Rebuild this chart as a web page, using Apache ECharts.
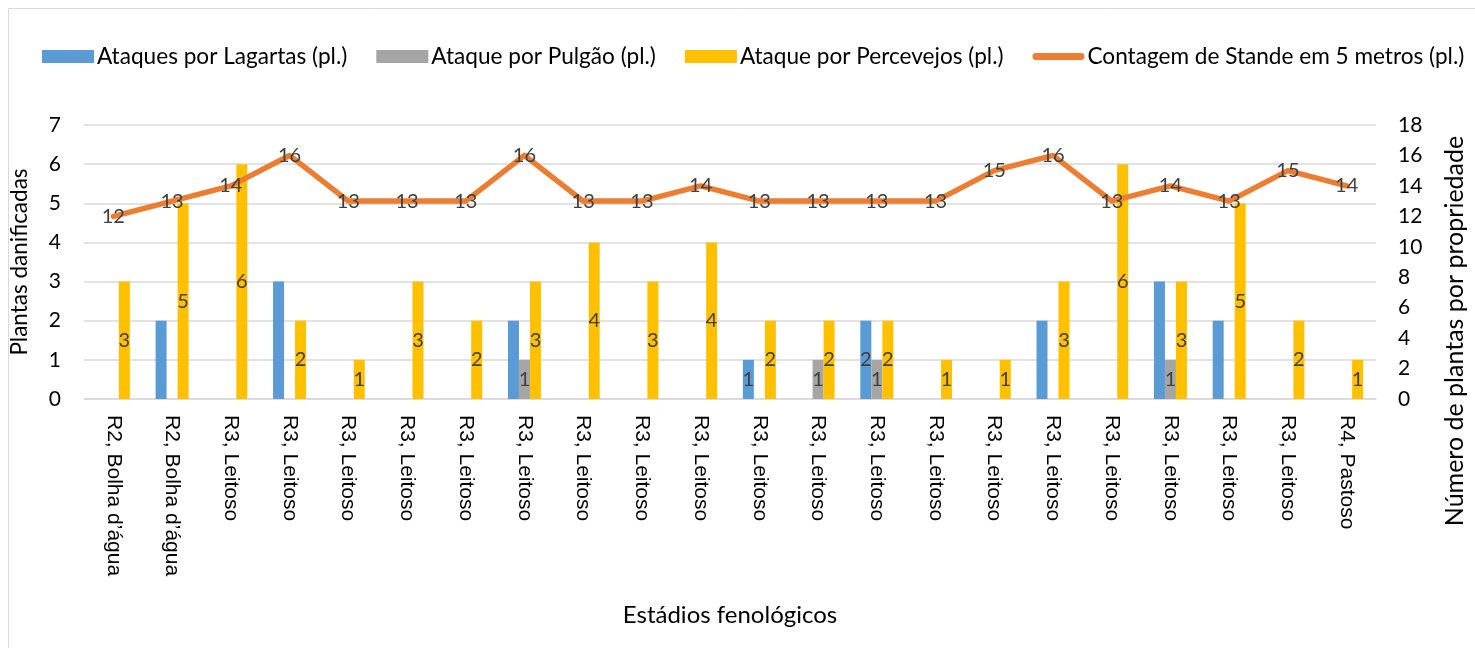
<!DOCTYPE html>
<html>
<head>
<meta charset="utf-8">
<script src="https://cdn.jsdelivr.net/npm/echarts@6/dist/echarts.min.js"></script>
<style>
  html, body { margin: 0; padding: 0; background: #fff; }
  #chart { width: 1475px; height: 648px; }
</style>
</head>
<body>
<div id="chart"></div>
<script>
var categorias = [
  'R2, Bolha d’água', 'R2, Bolha d’água', 'R3, Leitoso', 'R3, Leitoso', 'R3, Leitoso',
  'R3, Leitoso', 'R3, Leitoso', 'R3, Leitoso', 'R3, Leitoso', 'R3, Leitoso',
  'R3, Leitoso', 'R3, Leitoso', 'R3, Leitoso', 'R3, Leitoso', 'R3, Leitoso',
  'R3, Leitoso', 'R3, Leitoso', 'R3, Leitoso', 'R3, Leitoso', 'R3, Leitoso',
  'R3, Leitoso', 'R4, Pastoso'
]
var lagartas   = [0, 2, 0, 3, 0, 0, 0, 2, 0, 0, 0, 1, 0, 2, 0, 0, 2, 0, 3, 2, 0, 0]
var pulgao     = [0, 0, 0, 0, 0, 0, 0, 1, 0, 0, 0, 0, 1, 1, 0, 0, 0, 0, 1, 0, 0, 0]
var percevejos = [3, 5, 6, 2, 1, 3, 2, 3, 4, 3, 4, 2, 2, 2, 1, 1, 3, 6, 3, 5, 2, 1]
var stande     = [12, 13, 14, 16, 13, 13, 13, 16, 13, 13, 14, 13, 13, 13, 13, 15, 16, 13, 14, 13, 15, 14]

// only some bars carry a value label in the original
var lagartasRotulos = [11, 13]
var pulgaoRotulos = [7, 12, 13, 18]

var fonte = 'Lato, "Open Sans", sans-serif'
var fonteCategoria = '"Liberation Sans", Arial, sans-serif'
var corTexto = '#404040'

function rotular(valores, indices) {
  return valores.map(function (v, i) {
    return { value: v, label: { show: indices.indexOf(i) >= 0 } }
  })
}

var rotuloBarra = {
  position: 'inside',
  color: corTexto,
  fontSize: 20,
  fontFamily: fonte
}

var myChart = echarts.init(document.getElementById('chart'))

var option = {
  backgroundColor: '#fff',
  textStyle: { fontFamily: fonte },
  graphic: [{
    type: 'rect',
    shape: { x: 8.5, y: 8.5, width: 1500, height: 700 },
    style: { fill: 'none', stroke: '#D9D9D9', lineWidth: 1 },
    silent: true
  }],
  legend: {
    left: 37,
    top: 40,
    itemGap: 29,
    itemWidth: 52,
    itemHeight: 13,
    textStyle: { fontSize: 22.6, color: '#000', fontFamily: fonte, padding: [0, 0, 0, -2] },
    data: [
      { name: 'Ataques por Lagartas (pl.)', icon: 'rect' },
      { name: 'Ataque por Pulgão (pl.)', icon: 'rect' },
      { name: 'Ataque por Percevejos (pl.)', icon: 'rect' },
      {
        name: 'Contagem de Stande em 5 metros (pl.)',
        icon: 'path://M3.5,0 H49.5 A3.5,3.5 0 0 1 49.5,7 H3.5 A3.5,3.5 0 0 1 3.5,0 Z'
      }
    ]
  },
  grid: { left: 83, right: 74, top: 125, bottom: 249 },
  xAxis: {
    type: 'category',
    data: categorias,
    name: 'Estádios fenológicos',
    nameLocation: 'middle',
    nameGap: 204,
    nameTextStyle: { fontSize: 24, color: '#000', fontFamily: fonte },
    axisLine: { lineStyle: { color: '#D9D9D9', width: 1.5 } },
    axisTick: { show: false },
    axisLabel: {
      rotate: -90,
      interval: 0,
      margin: 16,
      fontSize: 21,
      color: '#000',
      fontFamily: fonteCategoria
    }
  },
  yAxis: [{
    type: 'value',
    min: 0,
    max: 7,
    interval: 1,
    name: 'Plantas danificadas',
    nameLocation: 'middle',
    nameGap: 53,
    nameTextStyle: { fontSize: 22.5, color: '#000', fontFamily: fonte },
    axisLine: { show: false },
    axisTick: { show: false },
    axisLabel: { margin: 23, fontSize: 21, color: '#000', fontFamily: fonte },
    splitLine: { lineStyle: { color: '#D9D9D9', width: 1.5 } }
  }, {
    type: 'value',
    min: 0,
    max: 18,
    interval: 2,
    name: 'Número de plantas por propriedade',
    nameLocation: 'middle',
    nameRotate: 90,
    nameGap: 66,
    nameTextStyle: { fontSize: 25, color: '#000', fontFamily: fonte, padding: [0, 138, 0, 0] },
    axisLine: { show: false },
    axisTick: { show: false },
    axisLabel: { margin: 22, fontSize: 21, color: '#000', fontFamily: fonte },
    splitLine: { show: false }
  }],
  series: [{
    name: 'Ataques por Lagartas (pl.)',
    type: 'bar',
    barWidth: 11,
    barGap: '0%',
    itemStyle: { color: '#5B9BD5' },
    label: rotuloBarra,
    data: rotular(lagartas, lagartasRotulos)
  }, {
    name: 'Ataque por Pulgão (pl.)',
    type: 'bar',
    barWidth: 11,
    barGap: '0%',
    itemStyle: { color: '#A5A5A5' },
    label: rotuloBarra,
    data: rotular(pulgao, pulgaoRotulos)
  }, {
    name: 'Ataque por Percevejos (pl.)',
    type: 'bar',
    barWidth: 11,
    barGap: '0%',
    itemStyle: { color: '#FFC000' },
    label: Object.assign({ show: true }, rotuloBarra),
    data: percevejos
  }, {
    name: 'Contagem de Stande em 5 metros (pl.)',
    type: 'line',
    yAxisIndex: 1,
    symbol: 'circle',
    symbolSize: 1,
    showSymbol: true,
    itemStyle: { color: '#ED7D31' },
    lineStyle: { color: '#ED7D31', width: 5.5, cap: 'round', join: 'round' },
    label: {
      show: true,
      position: 'inside',
      color: corTexto,
      fontSize: 20,
      fontFamily: fonte
    },
    z: 3,
    data: stande
  }]
}

myChart.setOption(option)
</script>
</body>
</html>
